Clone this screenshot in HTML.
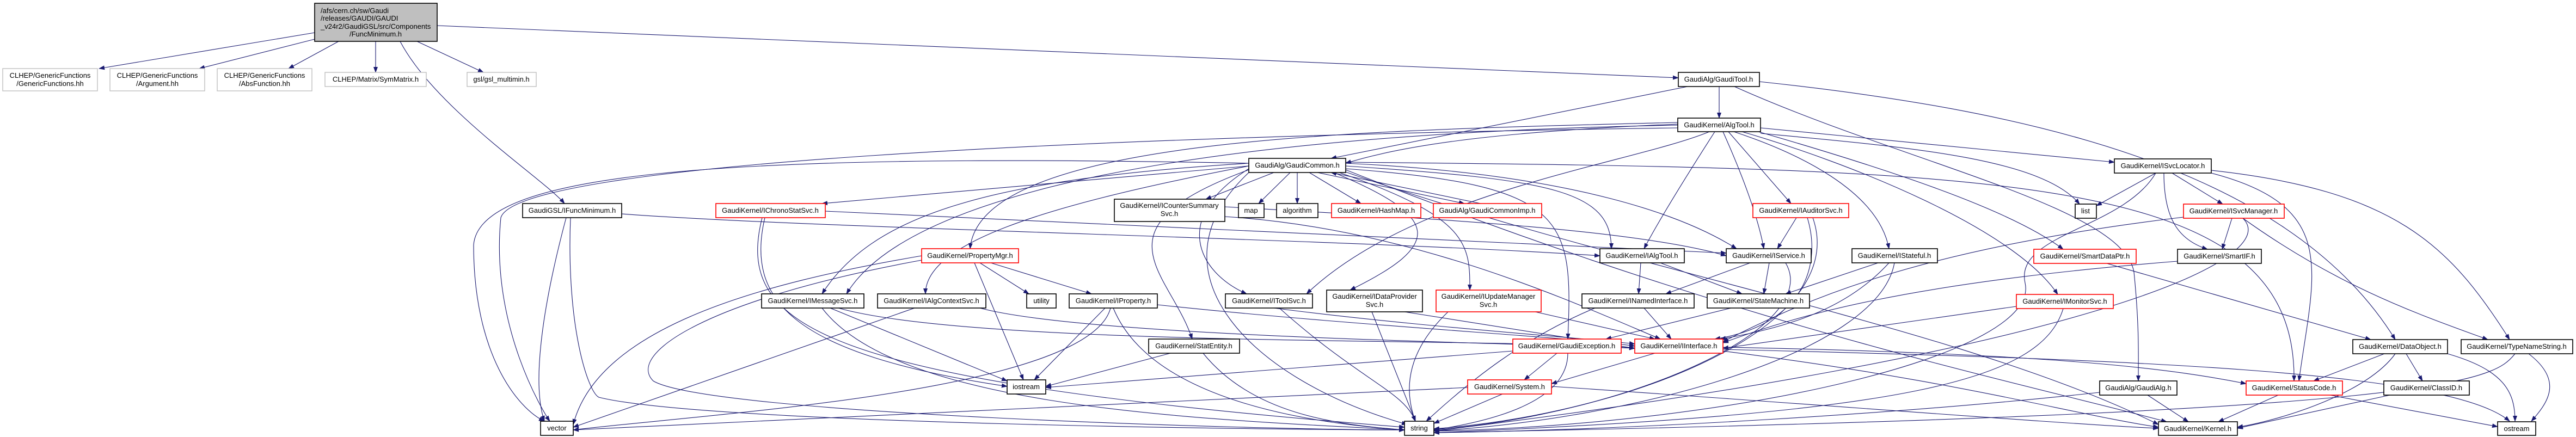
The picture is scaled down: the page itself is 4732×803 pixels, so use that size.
<!DOCTYPE html>
<html><head><meta charset="utf-8"><style>
html,body{margin:0;padding:0;background:#fff;}
svg{display:block;}
text{font-family:"Liberation Sans",sans-serif;font-size:13px;fill:#000;}
.n rect{fill:#fff;stroke:#000;stroke-width:1.6;}
.r rect{fill:#fff;stroke:#ff0000;stroke-width:1.6;}
.g rect{fill:#fff;stroke:#bfbfbf;stroke-width:1.4;}
.e path{fill:none;stroke:#191970;stroke-width:1.1;}
</style></head><body>
<svg width="4732" height="803" viewBox="0 0 4732 803" xmlns="http://www.w3.org/2000/svg">
<defs><marker id="a" markerWidth="11" markerHeight="8" refX="10" refY="4" orient="auto" markerUnits="userSpaceOnUse"><path d="M0,0 L11,4 L0,8 z" fill="#191970"/></marker></defs>
<g class="e" marker-end="url(#a)">
<path marker-end="url(#a)" d="M578,60 L182,126"/>
<path marker-end="url(#a)" d="M578,72 L366,126"/>
<path marker-end="url(#a)" d="M622,76 L530,126"/>
<path marker-end="url(#a)" d="M690,76 L690,133"/>
<path marker-end="url(#a)" d="M766,76 L888,133"/>
<path marker-end="url(#a)" d="M735,76 C800,200 1000,330 1037,374"/>
<path marker-end="url(#a)" d="M803,47 L3083,143"/>
<path marker-end="url(#a)" d="M3158,159 L3158,217"/>
<path marker-end="url(#a)" d="M3100,159 L2445,291"/>
<path marker-end="url(#a)" d="M3186,159 C3500,300 3900,380 3920,500 C3930,600 3928,650 3928,700"/>
<path marker-end="url(#a)" d="M3232,150 C3700,200 4200,300 4400,624"/>
<path marker-end="url(#a)" d="M3234,235 L3884,298"/>
<path marker-end="url(#a)" d="M3234,245 C3500,270 3750,290 3820,375"/>
<path marker-end="url(#a)" d="M3150,242 C3100,320 3050,400 3020,457"/>
<path marker-end="url(#a)" d="M3165,242 C3200,320 3230,400 3240,457"/>
<path marker-end="url(#a)" d="M3175,242 L3290,374"/>
<path marker-end="url(#a)" d="M3185,242 C3300,280 3450,350 3470,457"/>
<path marker-end="url(#a)" d="M3200,242 C3400,300 3700,420 3780,541"/>
<path marker-end="url(#a)" d="M3230,242 C3500,320 3700,390 3790,458"/>
<path marker-end="url(#a)" d="M3082,225 C2500,240 1800,250 1782,457"/>
<path marker-end="url(#a)" d="M3082,230 C2500,240 1700,300 1555,540"/>
<path marker-end="url(#a)" d="M3140,242 C3000,300 2600,350 2400,540"/>
<path marker-end="url(#a)" d="M3082,228 C2800,240 2600,260 2472,300"/>
<path marker-end="url(#a)" d="M3082,235 C2000,250 950,300 920,400 C900,600 1000,760 1010,774"/>
<path marker-end="url(#a)" d="M2294,305 L1510,374"/>
<path marker-end="url(#a)" d="M2340,317 L2215,366"/>
<path marker-end="url(#a)" d="M2370,317 L2312,374"/>
<path marker-end="url(#a)" d="M2383,317 L2383,374"/>
<path marker-end="url(#a)" d="M2405,317 L2500,374"/>
<path marker-end="url(#a)" d="M2420,317 L2690,374"/>
<path marker-end="url(#a)" d="M2720,374 L2445,317"/>
<path marker-end="url(#a)" d="M2472,305 C2850,330 2960,350 2960,457"/>
<path marker-end="url(#a)" d="M2472,300 C2900,320 3100,400 3190,457"/>
<path marker-end="url(#a)" d="M2450,317 C2650,400 2650,450 2480,533"/>
<path marker-end="url(#a)" d="M2460,317 C2700,400 2700,450 2700,533"/>
<path marker-end="url(#a)" d="M2472,310 C2880,340 2890,400 2880,623"/>
<path marker-end="url(#a)" d="M2294,310 C2150,400 2200,500 2290,540"/>
<path marker-end="url(#a)" d="M2294,300 C1800,330 1600,400 1510,540"/>
<path marker-end="url(#a)" d="M2294,305 C1900,380 1700,450 1700,540"/>
<path marker-end="url(#a)" d="M2294,312 C2000,420 2150,500 2190,623"/>
<path marker-end="url(#a)" d="M2294,300 C1300,280 880,320 870,450 C870,650 950,750 1000,774"/>
<path marker-end="url(#a)" d="M2294,317 C2100,500 2300,700 2585,780"/>
<path marker-end="url(#a)" d="M2472,298 C3700,310 4220,320 4214,700"/>
<path marker-end="url(#a)" d="M2472,312 C3200,600 3700,700 3980,775"/>
<path marker-end="url(#a)" d="M1516,388 L3171,465"/>
<path marker-end="url(#a)" d="M1400,400 C1350,600 1500,700 2580,785"/>
<path marker-end="url(#a)" d="M1405,400 C1370,550 1450,650 1850,710"/>
<path marker-end="url(#a)" d="M2250,398 C2600,420 2900,560 3050,623"/>
<path marker-end="url(#a)" d="M2250,380 C2600,400 3000,420 3171,470"/>
<path marker-end="url(#a)" d="M1820,483 L2005,540"/>
<path marker-end="url(#a)" d="M1800,483 L1890,540"/>
<path marker-end="url(#a)" d="M1790,483 L1880,698"/>
<path marker-end="url(#a)" d="M1693,478 C1300,550 1150,650 1200,700 C1300,760 2300,790 2580,790"/>
<path marker-end="url(#a)" d="M1693,470 C1400,520 1100,600 1053,780"/>
<path marker-end="url(#a)" d="M1525,566 L1850,700"/>
<path marker-end="url(#a)" d="M1510,566 C1650,750 2200,770 2580,790"/>
<path marker-end="url(#a)" d="M1540,566 C1800,640 2800,620 3003,640"/>
<path marker-end="url(#a)" d="M1680,566 L1053,785"/>
<path marker-end="url(#a)" d="M1800,566 C2000,620 2800,630 3003,640"/>
<path marker-end="url(#a)" d="M2030,566 L1900,698"/>
<path marker-end="url(#a)" d="M2045,566 C2100,700 2300,770 2580,790"/>
<path marker-end="url(#a)" d="M2126,560 C2500,600 2900,620 3003,636"/>
<path marker-end="url(#a)" d="M2040,566 C2000,720 1300,760 1053,790"/>
<path marker-end="url(#a)" d="M2340,566 C2600,600 2900,620 3003,632"/>
<path marker-end="url(#a)" d="M2350,566 C2500,700 2580,720 2600,774"/>
<path marker-end="url(#a)" d="M2150,649 L1921,710"/>
<path marker-end="url(#a)" d="M2210,649 C2300,760 2450,780 2580,790"/>
<path marker-end="url(#a)" d="M2580,573 L3003,640"/>
<path marker-end="url(#a)" d="M2520,573 L2600,774"/>
<path marker-end="url(#a)" d="M2820,573 L3040,623"/>
<path marker-end="url(#a)" d="M2660,573 C2580,650 2580,720 2600,774"/>
<path marker-end="url(#a)" d="M3014,483 L3010,540"/>
<path marker-end="url(#a)" d="M3050,483 L3200,540"/>
<path marker-end="url(#a)" d="M3215,483 L3060,540"/>
<path marker-end="url(#a)" d="M3250,483 L3240,540"/>
<path marker-end="url(#a)" d="M3280,483 C3350,600 3000,760 2634,790"/>
<path marker-end="url(#a)" d="M3450,483 L3280,540"/>
<path marker-end="url(#a)" d="M3470,483 C3400,560 3300,600 3160,623"/>
<path marker-end="url(#a)" d="M3480,483 C3450,650 3000,770 2634,792"/>
<path marker-end="url(#a)" d="M3300,400 L3265,457"/>
<path marker-end="url(#a)" d="M3320,400 C3350,500 3300,600 3150,623"/>
<path marker-end="url(#a)" d="M3330,400 C3400,600 3000,760 2634,788"/>
<path marker-end="url(#a)" d="M3020,566 L3070,623"/>
<path marker-end="url(#a)" d="M2930,566 C2800,620 2700,700 2620,774"/>
<path marker-end="url(#a)" d="M3180,566 L2950,623"/>
<path marker-end="url(#a)" d="M2860,649 L2800,698"/>
<path marker-end="url(#a)" d="M2880,649 C2880,750 2700,780 2634,790"/>
<path marker-end="url(#a)" d="M2779,645 L1921,712"/>
<path marker-end="url(#a)" d="M3040,649 L2850,705"/>
<path marker-end="url(#a)" d="M3165,638 C3800,650 4000,680 4126,705"/>
<path marker-end="url(#a)" d="M3165,645 C3600,700 3800,760 3965,785"/>
<path marker-end="url(#a)" d="M3165,642 C3900,660 4500,680 4610,774"/>
<path marker-end="url(#a)" d="M2760,724 L2634,778"/>
<path marker-end="url(#a)" d="M2696,712 L1053,790"/>
<path marker-end="url(#a)" d="M2850,710 C3300,740 3800,780 3965,787"/>
<path marker-end="url(#a)" d="M3960,318 L3851,378"/>
<path marker-end="url(#a)" d="M3990,318 L4083,375"/>
<path marker-end="url(#a)" d="M3975,318 C3975,400 4000,440 4055,458"/>
<path marker-end="url(#a)" d="M4062,313 C4400,350 4500,450 4610,624"/>
<path marker-end="url(#a)" d="M3960,318 C3900,420 3700,430 3720,520 C3750,650 3200,780 2634,792"/>
<path marker-end="url(#a)" d="M4062,318 C4300,380 4250,500 4223,700"/>
<path marker-end="url(#a)" d="M4100,401 L4082,458"/>
<path marker-end="url(#a)" d="M4120,401 C4300,530 4450,580 4570,624"/>
<path marker-end="url(#a)" d="M4011,399 C3500,460 3300,560 3165,628"/>
<path marker-end="url(#a)" d="M4120,401 C4200,480 3800,650 2634,792"/>
<path marker-end="url(#a)" d="M4000,480 C3500,520 3300,580 3165,630"/>
<path marker-end="url(#a)" d="M3870,484 L4355,624"/>
<path marker-end="url(#a)" d="M3704,563 L3165,640"/>
<path marker-end="url(#a)" d="M3790,567 C3750,700 3500,760 2634,795"/>
<path marker-end="url(#a)" d="M4380,650 L4250,700"/>
<path marker-end="url(#a)" d="M4420,650 L4450,700"/>
<path marker-end="url(#a)" d="M4400,650 C4350,720 4200,770 4110,785"/>
<path marker-end="url(#a)" d="M4496,650 C4600,680 4620,720 4620,774"/>
<path marker-end="url(#a)" d="M4645,650 C4710,700 4680,740 4650,774"/>
<path marker-end="url(#a)" d="M4620,650 C4580,700 4500,760 2634,795"/>
<path marker-end="url(#a)" d="M4185,726 L4075,775"/>
<path marker-end="url(#a)" d="M4280,726 L4588,784"/>
<path marker-end="url(#a)" d="M4390,726 L4110,787"/>
<path marker-end="url(#a)" d="M3945,726 L4020,775"/>
<path marker-end="url(#a)" d="M3857,721 C3500,760 3000,790 2634,795"/>
<path marker-end="url(#a)" d="M1142,393 C1500,420 2500,440 2939,470"/>
<path marker-end="url(#a)" d="M1040,400 C1000,550 975,700 1000,774"/>
<path marker-end="url(#a)" d="M1048,400 C1040,600 1080,720 1100,730 C1300,780 2400,790 2580,790"/>
<path marker-end="url(#a)" d="M2472,316 C3000,500 3600,600 3965,780"/>
</g>

<g>
<rect x="578" y="6" width="225" height="70" fill="#bfbfbf" stroke="#000" stroke-width="1.6"/>
<text x="589" y="24">/afs/cern.ch/sw/Gaudi</text>
<text x="589" y="38">/releases/GAUDI/GAUDI</text>
<text x="589" y="53">_v24r2/GaudiGSL/src/Components</text>
<text x="690" y="67" text-anchor="middle">/FuncMinimum.h</text>
</g>

<g class="g" text-anchor="middle">
<rect x="5" y="126" width="174" height="41"/><text x="92" y="143">CLHEP/GenericFunctions</text><text x="92" y="158">/GenericFunctions.hh</text>
<rect x="202" y="126" width="174" height="41"/><text x="289" y="143">CLHEP/GenericFunctions</text><text x="289" y="158">/Argument.hh</text>
<rect x="399" y="126" width="174" height="41"/><text x="486" y="143">CLHEP/GenericFunctions</text><text x="486" y="158">/AbsFunction.hh</text>
<rect x="597" y="133" width="186" height="26"/><text x="690" y="150">CLHEP/Matrix/SymMatrix.h</text>
<rect x="858" y="133" width="127" height="26"/><text x="921" y="150">gsl/gsl_multimin.h</text>
</g>

<g class="n" text-anchor="middle">
<rect x="3083" y="133" width="149" height="26"/><text x="3157" y="150">GaudiAlg/GaudiTool.h</text>
<rect x="3082" y="217" width="152" height="25"/><text x="3158" y="234">GaudiKernel/AlgTool.h</text>
<rect x="2294" y="291" width="178" height="26"/><text x="2383" y="308">GaudiAlg/GaudiCommon.h</text>
<rect x="3884" y="292" width="178" height="26"/><text x="3973" y="309">GaudiKernel/ISvcLocator.h</text>
<rect x="960" y="374" width="182" height="26"/><text x="1051" y="391">GaudiGSL/IFuncMinimum.h</text>
<rect x="2047" y="366" width="203" height="41"/><text x="2148" y="382">GaudiKernel/ICounterSummary</text><text x="2148" y="397">Svc.h</text>
<rect x="2275" y="374" width="47" height="26"/><text x="2298" y="391">map</text>
<rect x="2345" y="374" width="76" height="26"/><text x="2383" y="391">algorithm</text>
<rect x="3812" y="375" width="39" height="26"/><text x="3831" y="392">list</text>
<rect x="2939" y="457" width="155" height="26"/><text x="3016" y="474">GaudiKernel/IAlgTool.h</text>
<rect x="3171" y="457" width="156" height="26"/><text x="3249" y="474">GaudiKernel/IService.h</text>
<rect x="3402" y="457" width="157" height="26"/><text x="3480" y="474">GaudiKernel/IStateful.h</text>
<rect x="4000" y="458" width="154" height="26"/><text x="4077" y="475">GaudiKernel/SmartIF.h</text>
<rect x="1399" y="540" width="188" height="26"/><text x="1493" y="557">GaudiKernel/IMessageSvc.h</text>
<rect x="1612" y="540" width="199" height="26"/><text x="1711" y="557">GaudiKernel/IAlgContextSvc.h</text>
<rect x="1886" y="540" width="54" height="26"/><text x="1913" y="557">utility</text>
<rect x="1964" y="540" width="162" height="26"/><text x="2045" y="557">GaudiKernel/IProperty.h</text>
<rect x="2251" y="540" width="160" height="26"/><text x="2331" y="557">GaudiKernel/IToolSvc.h</text>
<rect x="2437" y="533" width="176" height="40"/><text x="2525" y="549">GaudiKernel/IDataProvider</text><text x="2525" y="564">Svc.h</text>
<rect x="2906" y="540" width="206" height="26"/><text x="3009" y="557">GaudiKernel/INamedInterface.h</text>
<rect x="3136" y="540" width="188" height="26"/><text x="3230" y="557">GaudiKernel/StateMachine.h</text>
<rect x="2110" y="623" width="167" height="26"/><text x="2193" y="640">GaudiKernel/StatEntity.h</text>
<rect x="4322" y="624" width="174" height="26"/><text x="4409" y="641">GaudiKernel/DataObject.h</text>
<rect x="4521" y="624" width="205" height="26"/><text x="4623" y="641">GaudiKernel/TypeNameString.h</text>
<rect x="1850" y="698" width="71" height="26"/><text x="1885" y="715">iostream</text>
<rect x="3857" y="700" width="142" height="26"/><text x="3928" y="717">GaudiAlg/GaudiAlg.h</text>
<rect x="4379" y="700" width="157" height="26"/><text x="4457" y="717">GaudiKernel/ClassID.h</text>
<rect x="993" y="774" width="60" height="26"/><text x="1023" y="791">vector</text>
<rect x="2580" y="774" width="54" height="26"/><text x="2607" y="791">string</text>
<rect x="3965" y="775" width="145" height="25"/><text x="4037" y="792">GaudiKernel/Kernel.h</text>
<rect x="4588" y="775" width="70" height="25"/><text x="4623" y="792">ostream</text>
</g>

<g class="r" text-anchor="middle">
<rect x="1315" y="374" width="201" height="26"/><text x="1415" y="391">GaudiKernel/IChronoStatSvc.h</text>
<rect x="2446" y="374" width="164" height="26"/><text x="2528" y="391">GaudiKernel/HashMap.h</text>
<rect x="2633" y="374" width="199" height="26"/><text x="2732" y="391">GaudiAlg/GaudiCommonImp.h</text>
<rect x="3220" y="374" width="176" height="26"/><text x="3308" y="391">GaudiKernel/IAuditorSvc.h</text>
<rect x="4011" y="375" width="185" height="26"/><text x="4103" y="392">GaudiKernel/ISvcManager.h</text>
<rect x="1693" y="457" width="178" height="26"/><text x="1782" y="474">GaudiKernel/PropertyMgr.h</text>
<rect x="3736" y="458" width="188" height="26"/><text x="3830" y="475">GaudiKernel/SmartDataPtr.h</text>
<rect x="2638" y="533" width="193" height="40"/><text x="2734" y="549">GaudiKernel/IUpdateManager</text><text x="2734" y="564">Svc.h</text>
<rect x="3704" y="541" width="178" height="26"/><text x="3793" y="558">GaudiKernel/IMonitorSvc.h</text>
<rect x="2779" y="623" width="199" height="26"/><text x="2878" y="640">GaudiKernel/GaudiException.h</text>
<rect x="3003" y="623" width="162" height="26"/><text x="3084" y="640">GaudiKernel/IInterface.h</text>
<rect x="2696" y="698" width="154" height="26"/><text x="2773" y="715">GaudiKernel/System.h</text>
<rect x="4126" y="700" width="177" height="26"/><text x="4214" y="717">GaudiKernel/StatusCode.h</text>
</g>
</svg>
</body></html>
